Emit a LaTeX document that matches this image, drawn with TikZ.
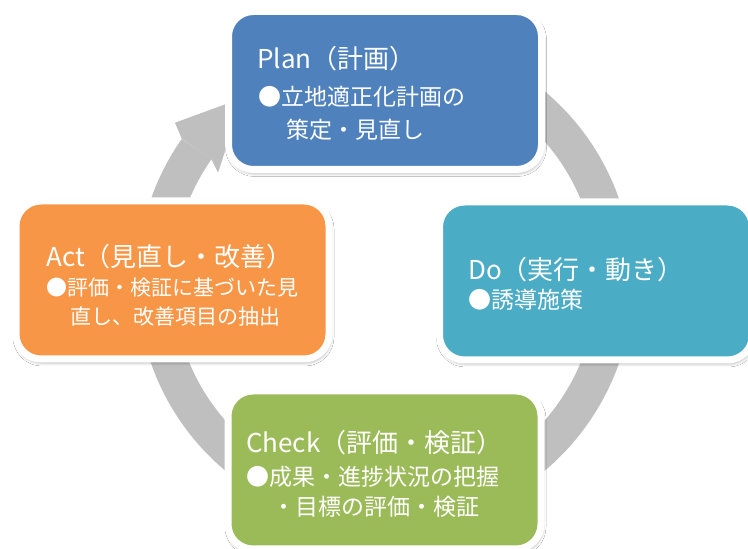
\documentclass[tikz,border=0pt]{standalone}
\usepackage{fontspec}
\setmainfont{Noto Sans CJK JP}
\usetikzlibrary{shadows.blur}
\definecolor{planc}{HTML}{4F81BD}
\definecolor{doc}{HTML}{4BACC6}
\definecolor{checkc}{HTML}{9BBB59}
\definecolor{actc}{HTML}{F79646}
\definecolor{arrowc}{HTML}{BFBFBF}
\tikzset{
  box/.style={draw=white, line width=7pt, rounded corners=25pt,
    minimum width=313pt, minimum height=158pt, inner sep=0pt,
    blur shadow={shadow xshift=1pt, shadow yshift=-3pt, shadow blur radius=4pt,
      shadow blur steps=8, shadow opacity=40}},
  ttl/.style={anchor=base west, inner sep=0pt, text=white, font=\fontsize{26}{26}\selectfont},
  bdy/.style={anchor=base west, inner sep=0pt, text=white, font=\fontsize{23}{23}\selectfont},
  bdys/.style={bdy, font=\fontsize{21}{21}\selectfont},
  cyc/.style={draw=arrowc, line width=36pt},
  cychead/.style={fill=arrowc, draw=none}
}
\begin{document}
\begin{tikzpicture}[x=1pt,y=1pt]
\useasboundingbox (0,0) rectangle (748,549);
\fill[white] (0,0) rectangle (748,549);
% cycle arrow
\coordinate (ctr) at (385,268);
\draw[cyc] ($(ctr)+(100:230)$) arc[start angle=100, end angle=-215, radius=230];
\fill[cychead] ($(ctr)+(143:263)$) -- ($(ctr)+(128:232)$) -- ($(ctr)+(147:199)$) -- ($(ctr)+(145:212)$) -- ($(ctr)+(145:248)$) -- cycle;
% boxes
\node[box, fill=planc] (plan) at (385,549-90.5) {};
\node[box, fill=actc] (act) at (172.5,549-280) {};
\node[box, fill=doc] (do) at (596,549-281) {};
\node[box, fill=checkc] (check) at (384.5,549-470) {};
% Plan text
\node[ttl] (plant) at (257,549-69) {Plan（計画）};
\node[bdy] (planb1) at (258,549-106) {●立地適正化計画の};
\node[bdy] (planb2) at (286,549-139) {策定・見直し};
% Act text
\node[ttl] (actt) at (46,549-267) {Act（見直し・改善）};
\node[bdys] (actb1) at (46,549-296) {●評価・検証に基づいた見};
\node[bdys] (actb2) at (70,549-325) {直し、改善項目の抽出};
% Do text
\node[ttl] (dot) at (468,549-280) {Do（実行・動き）};
\node[bdy] (dob1) at (468,549-309) {●誘導施策};
% Check text
\node[ttl] (checkt) at (246,549-453) {Check（評価・検証）};
\node[bdy] (checkb1) at (246,549-486) {●成果・進捗状況の把握};
\node[bdy] (checkb2) at (272,549-516) {・目標の評価・検証};
\end{tikzpicture}
\end{document}
